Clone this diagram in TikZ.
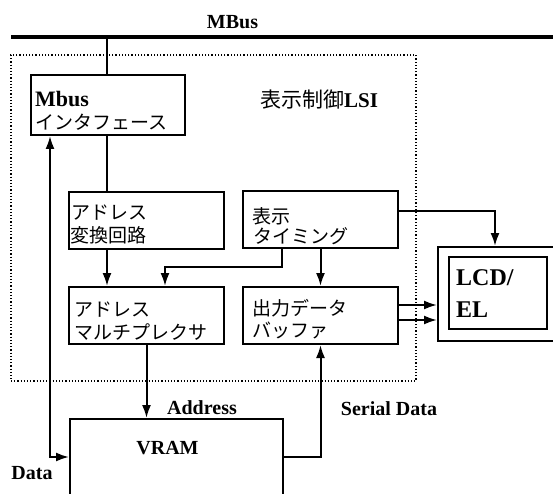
\documentclass[tikz,border=0pt]{standalone}
\usepackage{fontspec}
\setmainfont{Liberation Serif}
\newfontfamily\jp{Noto Sans CJK JP}
\usetikzlibrary{arrows.meta}
\begin{document}
\begin{tikzpicture}[x=1pt,y=-1pt,
  box/.style={draw, line width=2pt, inner sep=0pt, rectangle},
  lbl/.style={font=\bfseries\fontsize{20}{22}\selectfont, inner sep=0pt},
  jlbl/.style={font=\jp\fontsize{19}{22}\selectfont, inner sep=0pt, anchor=west},
  conn/.style={line width=2pt},
  arr/.style={conn, -{Latex[length=13pt,width=9pt]}},
  darr/.style={conn, {Latex[length=13pt,width=9pt]}-{Latex[length=13pt,width=9pt]}},
]
\useasboundingbox (0,0) rectangle (553,494);
% LSI dotted frame
\node[draw, dotted, line width=1.2pt, inner sep=0pt, minimum width=405pt, minimum height=326pt] (lsi) at (213.5,218) {};
% bus
\coordinate (busL) at (11,37);
\coordinate (busR) at (553,37);
\draw[line width=4.5pt] (busL) -- (busR);
\node[lbl] (mbuslbl) at (232.5,22) {MBus};
% boxes
\node[box, minimum width=154pt, minimum height=60pt] (mbusif) at (108,105) {};
\node[box, minimum width=155pt, minimum height=57pt] (addr) at (146.5,220.5) {};
\node[box, minimum width=155pt, minimum height=57pt] (timing) at (320.5,219.5) {};
\node[box, minimum width=155pt, minimum height=57pt] (mux) at (146.5,315.5) {};
\node[box, minimum width=155pt, minimum height=57pt] (outbuf) at (320.5,315.5) {};
\node[box, minimum width=130pt, minimum height=94pt] (lcdo) at (503,294) {};
\node[box, minimum width=98pt, minimum height=72pt] (lcdi) at (498,293) {};
\node[box, minimum width=213pt, minimum height=100pt] (vram) at (176.5,469) {};
% texts
\node[lbl, font=\bfseries\fontsize{22}{24}\selectfont, anchor=west] (tmbus) at (35,99) {Mbus};
\node[jlbl] (tif) at (35,122) {インタフェース};
\node[lbl, font=\bfseries\fontsize{21}{23}\selectfont] (tlsi) at (319,100) {{\jp\mdseries 表示制御}LSI};
\node[jlbl] (ta1) at (71,213) {アドレス};
\node[jlbl] (ta2) at (70,235) {変換回路};
\node[jlbl] (tt1) at (252,216) {表示};
\node[jlbl] (tt2) at (253,236) {タイミング};
\node[jlbl] (tm1) at (74,310) {アドレス};
\node[jlbl] (tm2) at (74,332) {マルチプレクサ};
\node[jlbl] (to1) at (252,308) {出力データ};
\node[jlbl] (to2) at (252,330) {バッファ};
\node[lbl, font=\bfseries\fontsize{24}{26}\selectfont, anchor=west] (tlcd) at (456,278) {LCD/};
\node[lbl, font=\bfseries\fontsize{24}{26}\selectfont, anchor=west] (tel) at (456,310) {EL};
\node[lbl] (tvram) at (167.5,448) {VRAM};
\node[lbl] (taddr) at (202,408) {Address};
\node[lbl] (tser) at (389,409) {Serial Data};
\node[lbl] (tdata) at (32,473) {Data};
% connectors
\draw[conn] (mbusif.north -| 107,0) -- (busL -| 107,0);
\draw[conn] (mbusif.south -| 107,0) -- (addr.north -| 107,0);
\draw[arr] (addr.south -| 107,0) -- (mux.north -| 107,0);
\draw[arr] (timing.south -| 282,0) -- (282,267) -| (mux.north -| 165,0);
\draw[arr] (timing.south) -- (outbuf.north);
\draw[arr] (timing.east |- 0,211) -| (lcdo.north -| 495,0);
\draw[arr] (outbuf.east |- 0,305) -- (lcdo.west |- 0,305);
\draw[arr] (outbuf.east |- 0,320) -- (lcdo.west |- 0,320);
\draw[arr] (mux.south) -- (mux.south |- vram.north);
\draw[arr] (vram.east |- 0,457) -| (outbuf.south);
\draw[darr] (mbusif.south -| 50,0) -- (50,457) -- (vram.west |- 0,457);
\end{tikzpicture}
\end{document}
